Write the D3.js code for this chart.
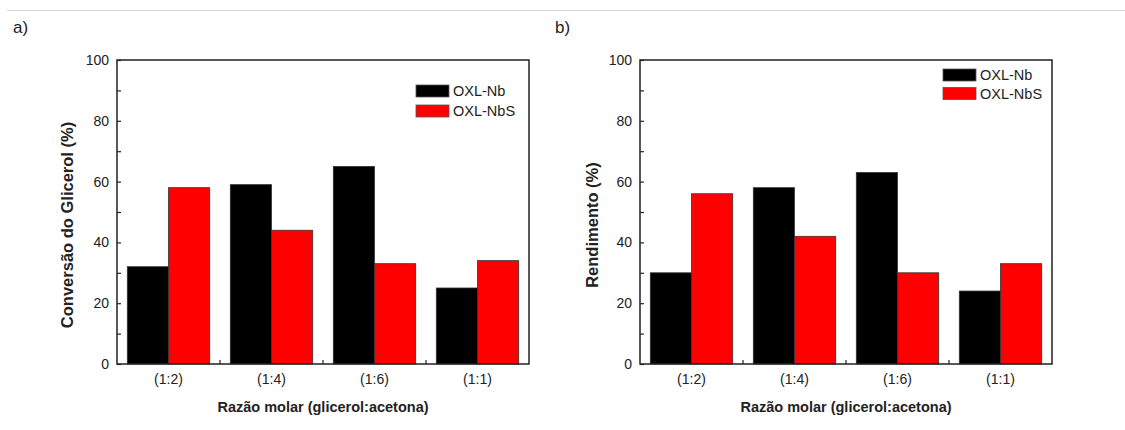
<!DOCTYPE html>
<html>
<head>
<meta charset="utf-8">
<script src="https://cdn.jsdelivr.net/npm/d3@7"></script>
<style>
  body { margin: 0; background: #fff; }
  svg text { font-family: "Liberation Sans", Arial, sans-serif; }
</style>
</head>
<body>
<svg id="chart" width="1125" height="430"></svg>
<script>
let categories = ["(1:2)", "(1:4)", "(1:6)", "(1:1)"];
let seriesNames = ["OXL-Nb", "OXL-NbS"];
let seriesColors = ["#000000", "#ff0000"];

let conversaoNb = [32, 59, 65, 25];
let conversaoNbS = [58, 44, 33, 34];
let rendimentoNb = [30, 58, 63, 24];
let rendimentoNbS = [56, 42, 30, 33];

let yTicks = [0, 20, 40, 60, 80, 100];
let yMinorTicks = [10, 30, 50, 70, 90];
let xTitle = "Razão molar (glicerol:acetona)";

let svg = d3.select("#chart");

// thin frame line at the top of the figure
svg.append("line")
    .attr("x1", 7).attr("x2", 1125)
    .attr("y1", 10.5).attr("y2", 10.5)
    .attr("stroke", "#d6d6d6")
    .attr("stroke-width", 1);

function buildPanel(opts){
    let margin = {left: opts.left, top: 60};
    let width = 412, height = 304;

    let g = svg.append("g")
        .attr("transform", "translate(" + margin.left + "," + margin.top + ")");

    let xScale = d3.scaleBand()
        .domain(categories)
        .range([0, width])
        .paddingInner(0.2)
        .paddingOuter(0.1);
    let xSub = d3.scaleBand()
        .domain(seriesNames)
        .range([0, xScale.bandwidth()]);
    let yScale = d3.scaleLinear()
        .domain([0, 100])
        .range([height, 0]);

    let rows = categories.map(function(c, i){
        return {cat: c, vals: [opts.nb[i], opts.nbs[i]]};
    });

    // bars
    let groups = g.selectAll(".grp")
        .data(rows)
        .enter().append("g")
        .attr("transform", function(d){ return "translate(" + xScale(d.cat) + ",0)"; });
    groups.selectAll("rect")
        .data(function(d){ return d.vals.map(function(v, k){ return {name: seriesNames[k], v: v, k: k}; }); })
        .enter().append("rect")
        .attr("x", function(d){ return xSub(d.name); })
        .attr("y", function(d){ return yScale(d.v); })
        .attr("width", xSub.bandwidth())
        .attr("height", function(d){ return height - yScale(d.v); })
        .attr("fill", function(d){ return seriesColors[d.k]; })
        .attr("stroke", "#333")
        .attr("stroke-width", 0.8);

    // y axis: ticks pointing inward
    let yAxis = d3.axisRight(yScale)
        .tickValues(yTicks)
        .tickSize(4)
        .tickFormat(d3.format("d"));
    let ya = g.append("g").call(yAxis);
    ya.select(".domain").remove();
    ya.selectAll("line").attr("stroke", "#222").attr("stroke-width", 1.2);
    ya.selectAll("text")
        .attr("x", -8)
        .attr("text-anchor", "end")
        .attr("fill", "#222")
        .style("font-size", "14px");

    let yMinor = d3.axisRight(yScale)
        .tickValues(yMinorTicks)
        .tickSize(4)
        .tickFormat("");
    let ym = g.append("g").call(yMinor);
    ym.select(".domain").remove();
    ym.selectAll("line").attr("stroke", "#222").attr("stroke-width", 1.2);

    // x axis: labels at category centres, tick marks between groups
    let xAxis = d3.axisBottom(xScale).tickSize(0).tickPadding(10);
    let xa = g.append("g")
        .attr("transform", "translate(0," + height + ")")
        .call(xAxis);
    xa.select(".domain").remove();
    xa.selectAll("text")
        .attr("fill", "#222")
        .style("font-size", "14px");

    let step = xScale.step();
    let sepTicks = d3.range(1, categories.length).map(function(i){ return i * step; });
    g.selectAll(".septick")
        .data(sepTicks)
        .enter().append("line")
        .attr("x1", function(d){ return d; })
        .attr("x2", function(d){ return d; })
        .attr("y1", height)
        .attr("y2", height - 4)
        .attr("stroke", "#222")
        .attr("stroke-width", 1.2);

    // frame
    g.append("rect")
        .attr("width", width)
        .attr("height", height)
        .attr("fill", "none")
        .attr("stroke", "#222")
        .attr("stroke-width", 1.5);

    // axis titles
    g.append("text")
        .attr("x", width / 2)
        .attr("y", height + 48)
        .attr("text-anchor", "middle")
        .attr("font-weight", "bold")
        .attr("fill", "#222")
        .style("font-size", "14.5px")
        .text(xTitle);
    g.append("text")
        .attr("transform", "translate(" + opts.yTitleX + "," + 165 + ") rotate(-90)")
        .attr("text-anchor", "middle")
        .attr("font-weight", "bold")
        .attr("fill", "#222")
        .style("font-size", "16.5px")
        .text(opts.yTitle);

    // panel letter
    svg.append("text")
        .attr("x", opts.letterX)
        .attr("y", 33)
        .attr("fill", "#222")
        .style("font-size", "17px")
        .text(opts.letter);

    // legend
    let lg = g.append("g")
        .attr("transform", "translate(" + opts.legX + "," + opts.legY + ")");
    seriesNames.forEach(function(name, k){
        lg.append("rect")
            .attr("x", 0)
            .attr("y", k * opts.legGap)
            .attr("width", 33)
            .attr("height", 12)
            .attr("fill", seriesColors[k])
            .attr("stroke", "#555")
            .attr("stroke-width", 0.8);
        lg.append("text")
            .attr("x", 37)
            .attr("y", k * opts.legGap + 6)
            .attr("dy", "0.35em")
            .attr("fill", "#222")
            .style("font-size", "14.5px")
            .text(name);
    });
}

buildPanel({
    left: 117, nb: conversaoNb, nbs: conversaoNbS,
    yTitle: "Conversão do Glicerol (%)", yTitleX: -44,
    letter: "a)", letterX: 13, legX: 299, legY: 25, legGap: 20
});
buildPanel({
    left: 640, nb: rendimentoNb, nbs: rendimentoNbS,
    yTitle: "Rendimento (%)", yTitleX: -42,
    letter: "b)", letterX: 555, legX: 303, legY: 9, legGap: 18.5
});
</script>
</body>
</html>
